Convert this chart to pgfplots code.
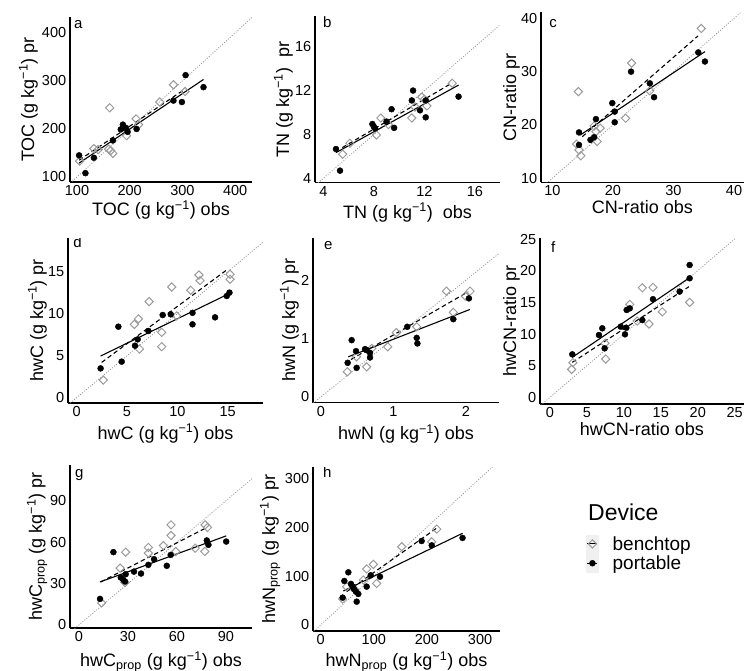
\documentclass[border=0pt]{standalone}
\usepackage{fontspec}
\setmainfont{Liberation Sans}
\usepackage{pgfplots}
\pgfplotsset{compat=1.18}
\definecolor{bench}{RGB}{155,155,155}
\definecolor{keybg}{RGB}{240,240,240}
\definecolor{oneline}{RGB}{150,150,150}
\tikzset{lett/.style={anchor=base west, inner sep=0pt, font=\fontsize{15}{15}\selectfont}}
\pgfplotsset{
  panel/.style n args={4}{
    at={(#1pt,-#2pt)}, anchor=south west,
    width=#3pt, height=#4pt, scale only axis,
    axis lines=left,
    axis line style={-, line width=1.1pt, black},
    tick style={draw=none},
    /pgf/number format/assume math mode=true,
    tick label style={font=\fontsize{14.5}{15}\selectfont},
    xticklabel style={inner sep=1.5pt},
    yticklabel style={inner sep=1.5pt},
    label style={font=\fontsize{18}{19}\selectfont},
  },
  xl/.style={xlabel style={at={(axis description cs:0.5,0)}, anchor=base, inner sep=0pt, yshift=-#1pt}},
  yl/.style={ylabel style={at={(axis description cs:0,0.5)}, anchor=base, inner sep=0pt, yshift=#1pt}},
  one/.style={oneline, line width=0.8pt, dash pattern=on 1pt off 1.6pt, forget plot},
  bt/.style={only marks, mark=square, mark size=2.9pt, mark options={rotate=45, bench, line width=1pt}, forget plot},
  pt/.style={only marks, mark=*, mark size=3pt, black, forget plot},
  pl/.style={black, line width=1.1pt, forget plot},
  bl/.style={black, line width=1.1pt, dash pattern=on 4.5pt off 3pt, forget plot},
}
\begin{document}
\begin{tikzpicture}
\useasboundingbox (0,0) rectangle (744pt,-671pt);

% ---------- a ----------
\begin{axis}[panel={70}{182}{182}{165},
  xmin=86.7, xmax=432, ymin=89.6, ymax=433,
  xtick={100,200,300,400}, ytick={100,200,300,400},
  xl=34, yl=36,
  xlabel={TOC (g kg\textsuperscript{−1}) obs}, ylabel={TOC (g kg\textsuperscript{−1}) pr}]
\addplot[one] coordinates {(0,0) (500,500)};
\addplot[bt] coordinates {(105,133) (132,159) (140,157) (160,158) (162,244) (168,149) (164,155) (194,186) (212,221) (217,209) (257,256) (283,292) (305,278)};
\addplot[pt] coordinates {(104,145) (116,108) (132,140) (168,176) (183,199) (187,209) (193,202) (196,194) (213,200) (283,259) (299,256) (306,312) (340,287)};
\addplot[pl] coordinates {(104,129) (340,303)};
\addplot[bl] coordinates {(104,135) (305,283)};
\node[lett] at (rel axis cs:0.022,0.933) {a};
\end{axis}

% ---------- b ----------
\begin{axis}[panel={315}{182.5}{185}{166},
  xmin=3.34, xmax=17.98, ymin=3.62, ymax=18.75,
  xtick={4,8,12,16}, ytick={4,8,12,16},
  xl=35.5, yl=26,
  xlabel={TN (g kg\textsuperscript{−1})\ \ obs}, ylabel={TN (g kg\textsuperscript{−1})\ \ pr}]
\addplot[one] coordinates {(0,0) (20,20)};
\addplot[bt] coordinates {(5.53,6.2) (6.1,7.2) (8.2,7.95) (8.55,9.5) (9.15,8.9) (11.0,9.5) (11.25,10.5) (11.8,11.4) (12.0,11.2) (12.2,10.6) (14.2,12.66)};
\addplot[pt] coordinates {(5.0,6.67) (5.32,4.7) (7.88,8.95) (8.0,8.7) (8.1,8.55) (9.0,9.17) (9.4,10.3) (9.6,8.6) (11.1,12.0) (11.0,11.1) (11.65,10.2) (12.1,9.56) (12.1,11.1) (14.7,11.45)};
\addplot[pl] coordinates {(5,6.34) (14.7,12.5)};
\addplot[bl] coordinates {(5.5,6.8) (14.2,12.7)};
\node[lett] at (rel axis cs:0.043,0.932) {b};
\end{axis}

% ---------- c ----------
\begin{axis}[panel={541}{182.5}{203}{170},
  xmin=8.13, xmax=41.65, ymin=9.2, ymax=41.1,
  xtick={10,20,30,40}, ytick={10,20,30,40},
  xl=31, yl=25,
  xticklabel style={inner sep=1pt},
  xlabel={CN-ratio obs}, ylabel={CN-ratio pr}]
\addplot[one] coordinates {(0,0) (50,50)};
\addplot[bt] coordinates {(14.3,26.25) (14.0,16.4) (14.4,15.3) (14.7,14.2) (16.9,19.8) (17.2,18.75) (17.4,16.9) (17.9,19.4) (22.1,21.25) (23.1,31.6) (26.1,26.4) (34.6,38.1)};
\addplot[pt] coordinates {(14.4,16.25) (14.4,18.6) (16.3,17.2) (16.9,17.7) (17.2,21.1) (19.9,24.1) (20.3,22.5) (20.3,20.5) (23.0,30.0) (26.1,27.8) (26.8,25.2) (34.1,33.6) (35.2,31.9)};
\addplot[pl] coordinates {(14.6,18.1) (35.2,33.75)};
\addplot[bl] coordinates {(14.95,17.8) (34.05,36.7)};
\node[lett] at (rel axis cs:0.04,0.912) {c};
\end{axis}

% ---------- d ----------
\begin{axis}[panel={68}{403}{195}{165},
  xmin=-0.86, xmax=18.5, ymin=-0.63, ymax=19.0,
  xtick={0,5,10,15}, ytick={0,5,10,15},
  xl=36, yl=25,
  xlabel={hwC (g kg\textsuperscript{−1}) obs}, ylabel={hwC (g kg\textsuperscript{−1}) pr}]
\addplot[one] coordinates {(-5,-5) (25,25)};
\addplot[bt] coordinates {(2.65,2.1) (5.73,8.73) (6.13,9.37) (6.23,5.79) (7.19,11.43) (8.44,7.78) (8.44,6.07) (9.44,13.17) (9.93,9.73) (11.32,12.78) (12.15,14.6) (12.25,13.93) (15.23,14.68) (15.23,14.09)};
\addplot[pt] coordinates {(2.38,3.49) (4.14,8.45) (4.47,4.29) (5.79,6.19) (6.06,6.94) (7.12,7.94) (8.54,9.84) (9.34,9.92) (11.5,10.1) (11.5,8.73) (13.74,9.56) (14.9,12.1) (15.17,12.5)};
\addplot[pl] coordinates {(2.38,4.96) (15,12.3)};
\addplot[bl] coordinates {(2.48,4.2) (14.9,15.2)};
\node[lett] at (rel axis cs:0.026,0.94) {d};
\end{axis}

% ---------- e ----------
\begin{axis}[panel={313}{402.7}{186}{165},
  xmin=-0.11, xmax=2.455, ymin=-0.1, ymax=2.725,
  xtick={0,1,2}, ytick={0,1,2},
  xl=36.6, yl=18,
  xlabel={hwN (g kg\textsuperscript{−1}) obs}, ylabel={hwN (g kg\textsuperscript{−1}) pr}]
\addplot[one] coordinates {(-1,-1) (3,3)};
\addplot[bt] coordinates {(0.363,0.429) (0.49,0.686) (0.63,0.514) (0.7,0.829) (0.92,0.857) (1.04,1.1) (1.32,1.2) (1.73,1.81) (1.825,1.446) (1.99,1.726) (2.055,1.81)};
\addplot[pt] coordinates {(0.368,0.583) (0.423,0.971) (0.483,0.783) (0.492,0.497) (0.607,0.817) (0.63,0.8) (0.676,0.754) (0.676,0.674) (1.19,1.2) (1.32,1.01) (1.33,0.914) (1.825,1.33) (2.04,1.686)};
\addplot[pl] coordinates {(0.377,0.686) (2.055,1.497)};
\addplot[bl] coordinates {(0.414,0.64) (2.03,1.8)};
\node[lett] at (rel axis cs:0.059,0.927) {e};
\end{axis}

% ---------- f ----------
\begin{axis}[panel={540}{404}{204}{166},
  xmin=-1.35, xmax=26.26, ymin=-1.05, ymax=25.16,
  xtick={0,5,10,15,20,25}, ytick={0,5,10,15,20,25},
  xl=31.5, yl=24,
  xticklabel style={inner sep=1pt},
  xlabel={hwCN-ratio obs}, ylabel={hwCN-ratio pr}]
\addplot[one] coordinates {(-5,-5) (30,30)};
\addplot[bt] coordinates {(2.93,4.42) (3.1,5.47) (7.45,8.53) (7.54,6.05) (10.8,14.68) (11.8,12.05) (12.5,17.3) (13.4,11.58) (13.94,17.37) (15.2,13.5) (18.9,15.0)};
\addplot[pt] coordinates {(3.02,6.79) (6.63,9.84) (7.08,10.9) (7.4,7.74) (9.57,11.16) (10.15,9.95) (10.33,11.0) (10.38,13.8) (10.8,14.05) (12.5,12.2) (13.94,15.5) (17.55,16.7) (18.9,20.9) (18.9,18.8)};
\addplot[pl] coordinates {(3.02,6.32) (18.9,18.9)};
\addplot[bl] coordinates {(3.02,5.53) (18.8,17.47)};
\node[lett] at (rel axis cs:0.054,0.915) {f};
\end{axis}

% ---------- g ----------
\begin{axis}[panel={70}{628}{182}{163},
  xmin=-5.5, xmax=106, ymin=-2.2, ymax=116,
  xtick={0,30,60,90}, ytick={0,30,60,90},
  xl=38.7, yl=28,
  xlabel={hwC\textsubscript{prop} (g kg\textsuperscript{−1}) obs}, ylabel={hwC\textsubscript{prop} (g kg\textsuperscript{−1}) pr}]
\addplot[one] coordinates {(-10,-10) (130,130)};
\addplot[bt] coordinates {(13.9,16) (25.2,41.2) (28.6,52.8) (28.2,30.8) (42.5,56.2) (42.5,52.1) (51.7,57.6) (56.4,72.6) (56.4,64.9) (59.3,53.3) (71.2,55.7) (77.3,72.6) (78.7,70.7) (77.1,53.3)};
\addplot[pt] coordinates {(12.9,18.9) (21.1,52.8) (25.6,34.4) (27.2,32.7) (28.2,31.5) (28.6,36.8) (33.7,38.7) (38.0,37.3) (42.5,43.6) (46.0,47.7) (53.8,42.9) (56.2,50.8) (78.3,61.3) (79.3,58.1) (90.2,60.5)};
\addplot[pl] coordinates {(12.9,31.2) (90.2,64.6)};
\addplot[bl] coordinates {(13.3,31.2) (78.3,70.7)};
\node[lett] at (rel axis cs:0.027,0.926) {g};
\end{axis}

% ---------- h ----------
\begin{axis}[panel={313}{631}{187}{164},
  xmin=-14.4, xmax=337.5, ymin=-12.3, ymax=323,
  xtick={0,100,200,300}, ytick={0,100,200,300},
  xl=35.7, yl=38,
  xlabel={hwN\textsubscript{prop} (g kg\textsuperscript{−1}) obs}, ylabel={hwN\textsubscript{prop} (g kg\textsuperscript{−1}) pr},
  legend style={at={(1.460,0.472)}, anchor=west, draw=none, fill=none,
    font=\fontsize{19}{19}\selectfont, inner sep=0pt, row sep=0pt,
    /tikz/every odd column/.append style={column sep=12pt}},
  legend cell align=left]
\addplot[one] coordinates {(-20,-20) (400,400)};
\addplot[bt] coordinates {(41.4,53.2) (49,78.4) (64.7,71.6) (80.4,92) (86.6,114.5) (99.2,124) (105.5,85) (152.5,160) (209,170) (218.5,196)};
\addplot[pt] coordinates {(41.4,55.9) (44.6,90) (52.1,107.7) (57.1,84) (60.3,78.4) (62.8,73.6) (66.5,68.2) (67.8,47.7) (70.9,63.4) (86.6,78.4) (94.2,101.5) (111.7,98.7) (190,171.7) (209,162.8) (267,178)};
\addplot[pl] coordinates {(42.7,69.5) (267,187.5)};
\addplot[bl] coordinates {(49,68.2) (218,197.7)};
\node[lett] at (rel axis cs:0.053,0.933) {h};
\addlegendimage{legend image code/.code={
  \fill[keybg] (-6pt,-9pt) rectangle (6pt,9pt);
  \draw[black, line width=1pt] (-5pt,0pt) -- (5pt,0pt);
  \draw[bench, line width=1pt] plot[mark=square, mark size=2.9pt, mark options={rotate=45}] coordinates {(0pt,0pt)};}}
\addlegendentry{benchtop}
\addlegendimage{legend image code/.code={
  \fill[keybg] (-6pt,-9pt) rectangle (6pt,9pt);
  \draw[black, line width=1pt] (-5pt,0pt) -- (5pt,0pt);
  \fill[black] plot[mark=*, mark size=3pt] coordinates {(0pt,0pt)};}}
\addlegendentry{portable}
\end{axis}

\node[anchor=base west, inner sep=0pt, font=\fontsize{23}{23}\selectfont] at (588pt,-520pt) {Device};
\end{tikzpicture}
\end{document}
